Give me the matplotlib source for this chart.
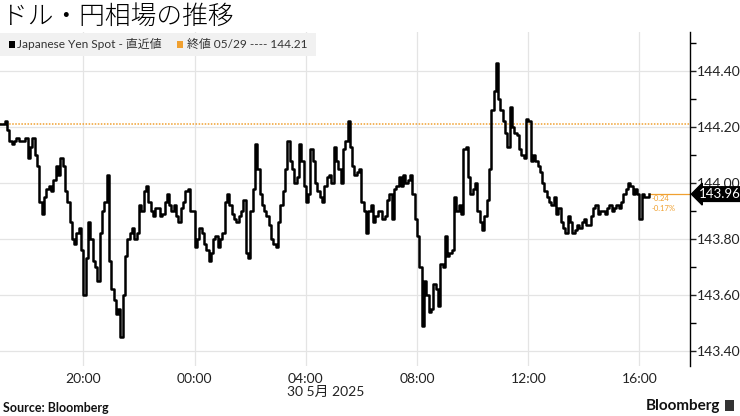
import matplotlib
import matplotlib.dates as mdates
import numpy as np
import pandas as pd
from matplotlib import pyplot as plt
from matplotlib.patches import Rectangle

matplotlib.use('Agg')

plt.rcParams['font.family'] = ['Lato', 'Noto Sans CJK JP', 'DejaVu Sans']

# ドル円スポット (2025-05-29 17:00 から)
start_time = '2025-05-29 17:00'
# 毎10分ちょうど (17:00, 17:10, ...)
prices_on = [
    144.21, 144.22, 144.15, 144.15, 144.15, 144.15, 144.09, 144.16, 144.06, 143.89,
    143.98, 143.97, 144.06, 144.09, 143.97, 143.86, 143.78, 143.84, 143.60, 143.86,
    143.72, 143.65, 143.90, 144.03, 143.62, 143.53, 143.45, 143.74, 143.82, 143.80,
    143.92, 143.97, 143.93, 143.88, 143.91, 143.89, 143.96, 143.90, 143.88, 143.91,
    143.97, 143.90, 143.77, 143.84, 143.78, 143.72, 143.80, 143.77, 143.82, 143.96,
    143.89, 143.86, 143.90, 143.75, 143.90, 144.14, 143.96, 143.90, 143.85, 143.78,
    143.86, 143.97, 144.15, 144.05, 144.02, 144.08, 143.93, 144.12, 144.00, 143.95,
    143.99, 144.03, 144.13, 144.05, 144.12, 144.22, 144.06, 144.04, 143.93, 143.82,
    143.92, 143.88, 143.90, 143.88, 143.96, 143.98, 144.02, 144.03, 144.01, 143.96,
    143.81, 143.49, 143.60, 143.55, 143.62, 143.71, 143.81, 143.75, 143.95, 143.92,
    144.12, 144.02, 143.98, 143.90, 143.83, 143.94, 144.26, 144.43, 144.26, 144.18,
    144.27, 144.18, 144.12, 144.09, 144.22, 144.10, 144.06, 144.00, 143.95, 143.92,
    143.89, 143.86, 143.82, 143.86, 143.83, 143.84, 143.87, 143.85, 143.91, 143.89,
    143.90, 143.91, 143.90, 143.92, 143.93, 143.98, 143.99, 143.98, 143.87, 143.95,
    143.96,
]
# 5分すぎ (17:05, 17:15, ...)
prices_mid = [
    144.21, 144.19, 144.14, 144.16, 144.15, 144.16, 144.13, 144.10, 143.93, 143.95,
    143.99, 144.01, 144.03, 144.06, 143.93, 143.80, 143.82, 143.76, 143.73, 143.80,
    143.70, 143.82, 143.93, 143.72, 143.58, 143.55, 143.60, 143.80, 143.84, 143.82,
    143.90, 143.99, 143.90, 143.91, 143.88, 143.93, 143.92, 143.92, 143.86, 143.93,
    143.98, 143.90, 143.80, 143.82, 143.76, 143.75, 143.81, 143.80, 143.93, 143.92,
    143.87, 143.88, 143.94, 143.73, 143.98, 144.05, 143.92, 143.88, 143.80, 143.77,
    143.92, 144.05, 144.08, 144.00, 144.14, 143.99, 143.96, 144.08, 143.97, 143.93,
    144.02, 144.00, 144.08, 144.00, 144.15, 144.13, 144.03, 144.05, 143.90, 143.90,
    143.86, 143.90, 143.87, 143.94, 143.87, 143.99, 143.99, 144.00, 144.03, 143.87,
    143.70, 143.65, 143.54, 143.64, 143.56, 143.70, 143.74, 143.76, 143.90, 143.89,
    144.13, 143.96, 144.00, 143.86, 143.88, 144.05, 144.33, 144.30, 144.22, 144.13,
    144.20, 144.17, 144.10, 144.23, 144.08, 144.08, 144.04, 143.97, 143.93, 143.95,
    143.91, 143.84, 143.88, 143.82, 143.85, 143.86, 143.85, 143.88, 143.92, 143.90,
    143.89, 143.92, 143.91, 143.91, 143.96, 144.00, 143.96, 143.96, 143.96, 143.95,
]
prev_close = 144.21
last_value = 143.96
change_text = '-0.24'
change_pct_text = '-0.17%'

y_ticks = [143.40, 143.60, 143.80, 144.00, 144.20, 144.40]
x_tick_times = ['2025-05-29 20:00', '2025-05-30 00:00', '2025-05-30 04:00',
                '2025-05-30 08:00', '2025-05-30 12:00', '2025-05-30 16:00']

# 二つの列を時刻順に並べる
prices = [p for pair in zip(prices_on, prices_mid) for p in pair] + prices_on[len(prices_mid):]
times = pd.date_range(start_time, periods=len(prices), freq='5min')

black = '#000000'
orange = '#f0a030'
grid_c = '#e4e4e4'
x_end = pd.Timestamp('2025-05-30 17:49')

fig = plt.figure(figsize=(7.4, 4.16), dpi=100)
ax = fig.add_axes([0.0, 1 - 366 / 416, 690 / 740, (366 - 32) / 416])

ax.set_xlim(pd.Timestamp(start_time), x_end)
ax.set_ylim(143.346, 144.539)

# グリッド
for t in x_tick_times:
    ax.axvline(pd.Timestamp(t), color=grid_c, lw=0.9, zorder=0)
for v in y_ticks:
    ax.axhline(v, color=grid_c, lw=0.9, zorder=0)

# 前日終値
ax.axhline(prev_close, color=orange, lw=1.1, ls=(0, (1, 1)), zorder=1)

ax.plot(times, prices, color=black, lw=1.8, drawstyle='steps-post', zorder=3)

# 直近値ライン
ax.plot([times[-1], x_end], [last_value, last_value], color=orange, lw=0.9, zorder=2)
ax.text(times[-1] + pd.Timedelta(minutes=6), last_value - 0.015, change_text,
        color=orange, fontsize=5.5, va='center', ha='left')
ax.text(times[-1] + pd.Timedelta(minutes=6), last_value - 0.05, change_pct_text,
        color=orange, fontsize=5.5, va='center', ha='left')

for s in ['top', 'left', 'bottom']:
    ax.spines[s].set_visible(False)
ax.spines['right'].set_color(black)
ax.spines['right'].set_linewidth(1.0)

ax.yaxis.tick_right()
ax.set_yticks(y_ticks)
ax.set_yticklabels([f'{v:.2f}' for v in y_ticks])
ax.set_yticks(np.arange(143.5, 144.55, 0.2), minor=True)
ax.tick_params(axis='y', which='major', length=4, width=1, pad=1, labelsize=10,
               colors='#222222')
ax.tick_params(axis='y', which='minor', length=4, width=1)

ax.set_xticks([pd.Timestamp(t) for t in x_tick_times])
ax.xaxis.set_major_formatter(mdates.DateFormatter('%H:%M'))
ax.tick_params(axis='x', length=0, pad=5, labelsize=10, colors='#222222')

# 直近値ラベル
ax.annotate(f'{last_value:.2f}', xy=(1.0, last_value),
            xycoords=('axes fraction', 'data'),
            xytext=(699 / 690, last_value), textcoords=('axes fraction', 'data'),
            color='white', fontsize=9.5, va='center', ha='left', zorder=10,
            annotation_clip=False,
            bbox=dict(boxstyle='larrow,pad=0.1', fc=black, ec=black))

# タイトル
fig.text(0.003, 1 - 17 / 416, 'ドル・円相場の推移', fontsize=18.5,
         family=['Noto Sans CJK JP'], weight='light', va='center', ha='left')

# 凡例
fig.patches.append(Rectangle((0, 1 - 56 / 416), 316 / 740, 23 / 416,
                             transform=fig.transFigure, fc='#f1f1f1', ec='none',
                             zorder=5))
fig.patches.append(Rectangle((9 / 740, 1 - 48 / 416), 6 / 740, 7 / 416,
                             transform=fig.transFigure, fc=black, ec='none',
                             zorder=6))
fig.text(17 / 740, 1 - 44 / 416, 'Japanese Yen Spot - 直近値', fontsize=8.6,
         va='center', ha='left', color='#333333', zorder=7)
fig.patches.append(Rectangle((177 / 740, 1 - 48 / 416), 6 / 740, 7 / 416,
                             transform=fig.transFigure, fc=orange, ec='none',
                             zorder=6))
fig.text(187 / 740, 1 - 44 / 416, '終値 05/29 ---- 144.21', fontsize=8.6,
         va='center', ha='left', color='#333333', zorder=7)

fig.text(326 / 740, 1 - 392 / 416, '30 5月 2025', fontsize=10, color='#222222',
         va='center', ha='center')

fig.text(3 / 740, 1 - 408 / 416, 'Source: Bloomberg', fontsize=9,
         weight='bold', va='center', ha='left', color='#111111')
fig.text(720 / 740, 1 - 406 / 416, 'Bloomberg', fontsize=11, weight='bold',
         va='center', ha='right', color='#111111')
fig.patches.append(Rectangle((725 / 740, 1 - 411 / 416), 9 / 740, 11 / 416,
                             transform=fig.transFigure, fc='#333333', ec='none'))

fig.savefig('out.png', dpi=100)
